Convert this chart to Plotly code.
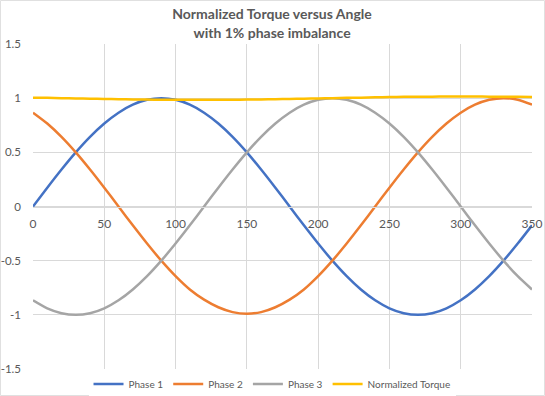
import plotly.graph_objects as go

angle = list(range(0, 360, 10))
phase1 = [0.0, 0.174, 0.342, 0.5, 0.643, 0.766, 0.866, 0.94, 0.985, 1.0, 0.985, 0.94,
          0.866, 0.766, 0.643, 0.5, 0.342, 0.174, 0.0, -0.174, -0.342, -0.5, -0.643, -0.766,
          -0.866, -0.94, -0.985, -1.0, -0.985, -0.94, -0.866, -0.766, -0.643, -0.5, -0.342, -0.174]
phase2 = [0.866, 0.766, 0.643, 0.5, 0.342, 0.174, 0.0, -0.174, -0.342, -0.5, -0.643, -0.766,
          -0.86, -0.93, -0.975, -0.99, -0.975, -0.93, -0.86, -0.766, -0.643, -0.5, -0.342, -0.174,
          0.0, 0.174, 0.342, 0.5, 0.643, 0.766, 0.866, 0.94, 0.985, 1.0, 0.985, 0.94]
phase3 = [-0.866, -0.94, -0.985, -1.0, -0.985, -0.94, -0.866, -0.766, -0.643, -0.5, -0.342, -0.174,
          0.0, 0.174, 0.342, 0.5, 0.643, 0.766, 0.866, 0.94, 0.985, 1.0, 0.985, 0.94,
          0.866, 0.766, 0.643, 0.5, 0.342, 0.174, 0.0, -0.174, -0.342, -0.5, -0.643, -0.766]
torque = [1.005, 1.003, 1.0, 0.998, 0.995, 0.993, 0.99, 0.988, 0.987, 0.986, 0.985, 0.985,
          0.985, 0.985, 0.986, 0.987, 0.988, 0.99, 0.993, 0.995, 0.998, 1.0, 1.003, 1.005,
          1.008, 1.01, 1.012, 1.013, 1.014, 1.015, 1.015, 1.015, 1.014, 1.013, 1.012, 1.01]

x_ticks = [0, 50, 100, 150, 200, 250, 300, 350]
y_ticks = [-1.5, -1, -0.5, 0, 0.5, 1, 1.5]
y_tick_labels = ["-1.5", "-1", "-0.5", "0", "0.5", "1", "1.5"]

series = [("Phase 1", phase1, "#4472C4"), ("Phase 2", phase2, "#ED7D31"),
          ("Phase 3", phase3, "#A5A5A5"), ("Normalized Torque", torque, "#FFC000")]

fig = go.Figure()
for name, vals, col in series:
    fig.add_trace(go.Scatter(x=angle, y=vals, name=name, mode="lines",
                             line=dict(color=col, width=2.5, shape="spline", smoothing=0.6)))

font_fam = "Lato, 'Liberation Sans', sans-serif"
fig.update_layout(
    width=545, height=396,
    margin=dict(l=33, r=13, t=44, b=27, autoexpand=False),
    paper_bgcolor="white", plot_bgcolor="white",
    font=dict(family=font_fam, color="#595959", size=12),
    title=dict(text="<b>Normalized Torque versus Angle<br>with 1% phase imbalance</b>",
               x=0.479, xref="paper", xanchor="center", y=0.951, yanchor="top",
               font=dict(size=14, color="#595959", family=font_fam)),
    xaxis=dict(range=[0, 350], tickvals=x_ticks, showgrid=True, gridcolor="#d9d9d9", gridwidth=1,
               zeroline=False, showline=True, linecolor="#d9d9d9", linewidth=1,
               anchor="free", position=0.5, ticks="", ticklabelstandoff=6, automargin=False,
               tickfont=dict(size=12, color="#595959")),
    yaxis=dict(range=[-1.5, 1.5], tickvals=y_ticks, ticktext=y_tick_labels,
               showgrid=True, gridcolor="#d9d9d9", gridwidth=1,
               zeroline=False, showline=False, ticks="", ticklabelstandoff=11, automargin=False,
               tickfont=dict(size=11.5, color="#595959")),
    legend=dict(orientation="h", x=0.479, xanchor="center", y=-0.046, yanchor="middle",
                font=dict(size=10, color="#595959"), itemwidth=30, tracegroupgap=0),
    showlegend=True,
)
fig.add_shape(type="rect", xref="paper", yref="paper",
              x0=-32.5/499, x1=511.5/499, y0=-26.5/325, y1=368.5/325,
              line=dict(color="#e0e0e0", width=1), layer="below")
fig.write_html("out.html", config={"displayModeBar": False},
               post_script="document.body.style.margin='0px';document.body.style.overflow='hidden';")
